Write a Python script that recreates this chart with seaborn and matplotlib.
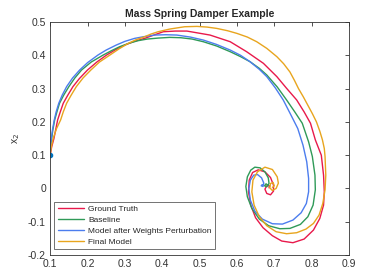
import pandas as pd
import seaborn as sns
import matplotlib
matplotlib.use('Agg')
import matplotlib.pyplot as plt

# Trajectories (x1, x2)
truth_x = [0.1, 0.104, 0.11, 0.115, 0.12, 0.127, 0.135, 0.147, 0.161, 0.178, 0.2, 0.225, 0.251,
           0.275, 0.3, 0.325, 0.353, 0.38, 0.403, 0.435, 0.466, 0.528, 0.582, 0.626, 0.671,
           0.707, 0.733, 0.76, 0.78, 0.797, 0.81, 0.826, 0.832, 0.834, 0.832, 0.822, 0.805,
           0.78, 0.75, 0.72, 0.695, 0.67, 0.65, 0.637, 0.631, 0.633, 0.642, 0.657,
           0.675, 0.69, 0.698, 0.698, 0.69, 0.68, 0.675, 0.68, 0.688, 0.686]
truth_y = [0.1, 0.125, 0.15, 0.178, 0.206, 0.23, 0.256, 0.28, 0.306, 0.33, 0.356, 0.38, 0.401,
           0.417, 0.431, 0.442, 0.451, 0.462, 0.471, 0.473, 0.473, 0.461, 0.441, 0.411, 0.376,
           0.336, 0.301, 0.266, 0.23, 0.196, 0.146, 0.1, 0.04, -0.01, -0.05, -0.09, -0.125,
           -0.152, -0.163, -0.158, -0.142, -0.118, -0.088, -0.05, -0.01, 0.025, 0.048, 0.056,
           0.05, 0.033, 0.01, -0.008, -0.019, -0.015, -0.002, 0.008, 0.008, 0.002]

base_x = [0.1, 0.101, 0.104, 0.107, 0.112, 0.118, 0.125, 0.136, 0.15, 0.166, 0.184, 0.21, 0.242,
          0.264, 0.286, 0.31, 0.335, 0.36, 0.39, 0.42, 0.45, 0.48, 0.51, 0.546, 0.582, 0.61,
          0.635, 0.66, 0.68, 0.708, 0.733, 0.755, 0.775, 0.792, 0.802, 0.809, 0.81, 0.804,
          0.79, 0.77, 0.742, 0.715, 0.685, 0.66, 0.64, 0.628, 0.624, 0.628, 0.637, 0.648,
          0.662, 0.675, 0.684, 0.686, 0.68, 0.674, 0.678, 0.683]
base_y = [0.1, 0.125, 0.15, 0.175, 0.206, 0.23, 0.256, 0.28, 0.306, 0.332, 0.356, 0.38, 0.401,
          0.414, 0.426, 0.436, 0.444, 0.449, 0.452, 0.454, 0.453, 0.449, 0.441, 0.428, 0.411, 0.396,
          0.381, 0.361, 0.341, 0.305, 0.266, 0.23, 0.196, 0.14, 0.096, 0.04, -0.004, -0.05,
          -0.085, -0.108, -0.12, -0.121, -0.112, -0.092, -0.06, -0.025, 0.006, 0.035, 0.055, 0.064,
          0.062, 0.05, 0.032, 0.015, 0.005, 0.008, 0.014, 0.01]

pert_x = [0.1, 0.101, 0.103, 0.106, 0.111, 0.116, 0.123, 0.132, 0.144, 0.16, 0.179, 0.2, 0.228,
          0.25, 0.277, 0.3, 0.326, 0.35, 0.38, 0.41, 0.439, 0.475, 0.51, 0.545, 0.582, 0.61,
          0.635, 0.66, 0.68, 0.703, 0.724, 0.745, 0.763, 0.777, 0.787, 0.792, 0.792, 0.786,
          0.772, 0.75, 0.722, 0.695, 0.668, 0.648, 0.636, 0.632, 0.636, 0.645, 0.655, 0.666,
          0.672, 0.67, 0.665, 0.668]
pert_y = [0.1, 0.125, 0.15, 0.175, 0.206, 0.23, 0.256, 0.28, 0.306, 0.332, 0.356, 0.378, 0.401,
          0.416, 0.431, 0.442, 0.451, 0.456, 0.461, 0.462, 0.461, 0.455, 0.446, 0.433, 0.416, 0.4,
          0.381, 0.358, 0.336, 0.302, 0.266, 0.22, 0.18, 0.13, 0.08, 0.03, -0.01, -0.045,
          -0.073, -0.095, -0.107, -0.106, -0.092, -0.068, -0.035, 0.0, 0.025, 0.04, 0.042, 0.032,
          0.016, 0.006, 0.008, 0.012]

final_x = [0.1, 0.103, 0.108, 0.117, 0.128, 0.135, 0.144, 0.156, 0.17, 0.188, 0.209, 0.232, 0.26,
           0.285, 0.309, 0.33, 0.353, 0.37, 0.389, 0.42, 0.46, 0.493, 0.52, 0.546, 0.575, 0.6,
           0.628, 0.653, 0.68, 0.707, 0.725, 0.742, 0.754, 0.765, 0.778, 0.79, 0.802, 0.813,
           0.822, 0.829, 0.834, 0.836, 0.838, 0.836, 0.83, 0.82, 0.805, 0.785, 0.76, 0.733,
           0.705, 0.68, 0.66, 0.646, 0.64, 0.643, 0.655, 0.675, 0.695, 0.708, 0.711, 0.705,
           0.695, 0.688, 0.69, 0.697, 0.7, 0.695]
final_y = [0.1, 0.125, 0.15, 0.18, 0.206, 0.23, 0.256, 0.28, 0.306, 0.332, 0.356, 0.38, 0.401,
           0.42, 0.436, 0.447, 0.456, 0.464, 0.471, 0.479, 0.486, 0.487, 0.485, 0.481, 0.474, 0.466,
           0.455, 0.441, 0.421, 0.396, 0.375, 0.35, 0.325, 0.3, 0.275, 0.25, 0.225, 0.2,
           0.172, 0.146, 0.12, 0.096, 0.04, -0.004, -0.045, -0.08, -0.105, -0.122, -0.133, -0.136,
           -0.13, -0.112, -0.085, -0.05, -0.01, 0.025, 0.05, 0.064, 0.057, 0.035, 0.016, 0.0,
           -0.006, 0.002, 0.015, 0.018, 0.008, 0.003]

labels = ['Ground Truth', 'Baseline', 'Model after Weights Perturbation', 'Final Model']
colors = ['#E8194B', '#2F9A58', '#4C7DEE', '#E8A51E']

frames = []
for lab, xs, ys in zip(labels, [truth_x, base_x, pert_x, final_x], [truth_y, base_y, pert_y, final_y]):
    frames.append(pd.DataFrame({'x1': xs, 'x2': ys, 'model': lab}))
df = pd.concat(frames, ignore_index=True)

sns.set_style('white')
plt.rcParams['font.family'] = ['Liberation Sans', 'DejaVu Sans']

fig = plt.figure(figsize=(3.86, 2.76), dpi=100)
ax = fig.add_axes([0.130, 0.076, 0.774, 0.844])

sns.lineplot(data=df, x='x1', y='x2', hue='model', hue_order=labels, palette=colors,
             sort=False, estimator=None, units='model', linewidth=1.0, ax=ax)
ax.plot([0.1], [0.1], marker='o', markersize=3, color='#0072BD', linestyle='none')

ax.set_xlim(0.1, 0.9)
ax.set_ylim(-0.2, 0.5)
ax.set_xticks([0.1, 0.2, 0.3, 0.4, 0.5, 0.6, 0.7, 0.8, 0.9])
ax.set_yticks([-0.2, -0.1, 0, 0.1, 0.2, 0.3, 0.4, 0.5])
ax.set_xticklabels(['0.1', '0.2', '0.3', '0.4', '0.5', '0.6', '0.7', '0.8', '0.9'])
ax.set_yticklabels(['-0.2', '-0.1', '0', '0.1', '0.2', '0.3', '0.4', '0.5'])
ax.tick_params(direction='in', length=3, width=0.6, labelsize=7.5, colors='#333333',
               top=True, right=True, pad=3)
for s in ax.spines.values():
    s.set_color('#333333')
    s.set_linewidth(0.6)
ax.set_xlabel('')
ax.set_ylabel('x$_2$', fontsize=7.5, color='#333333', labelpad=4)
ax.set_title('Mass Spring Damper Example', fontsize=7.5, fontweight='bold', pad=4)

leg = ax.legend(loc='lower left', fontsize=6.0, frameon=True, fancybox=False,
                handlelength=3.2, borderpad=0.4, labelspacing=0.35, handletextpad=0.45,
                borderaxespad=0, bbox_to_anchor=(0.0134, 0.026))
leg.get_frame().set_edgecolor('#333333')
leg.get_frame().set_linewidth(0.6)

fig.savefig('out.png', dpi=100)
plt.close()
